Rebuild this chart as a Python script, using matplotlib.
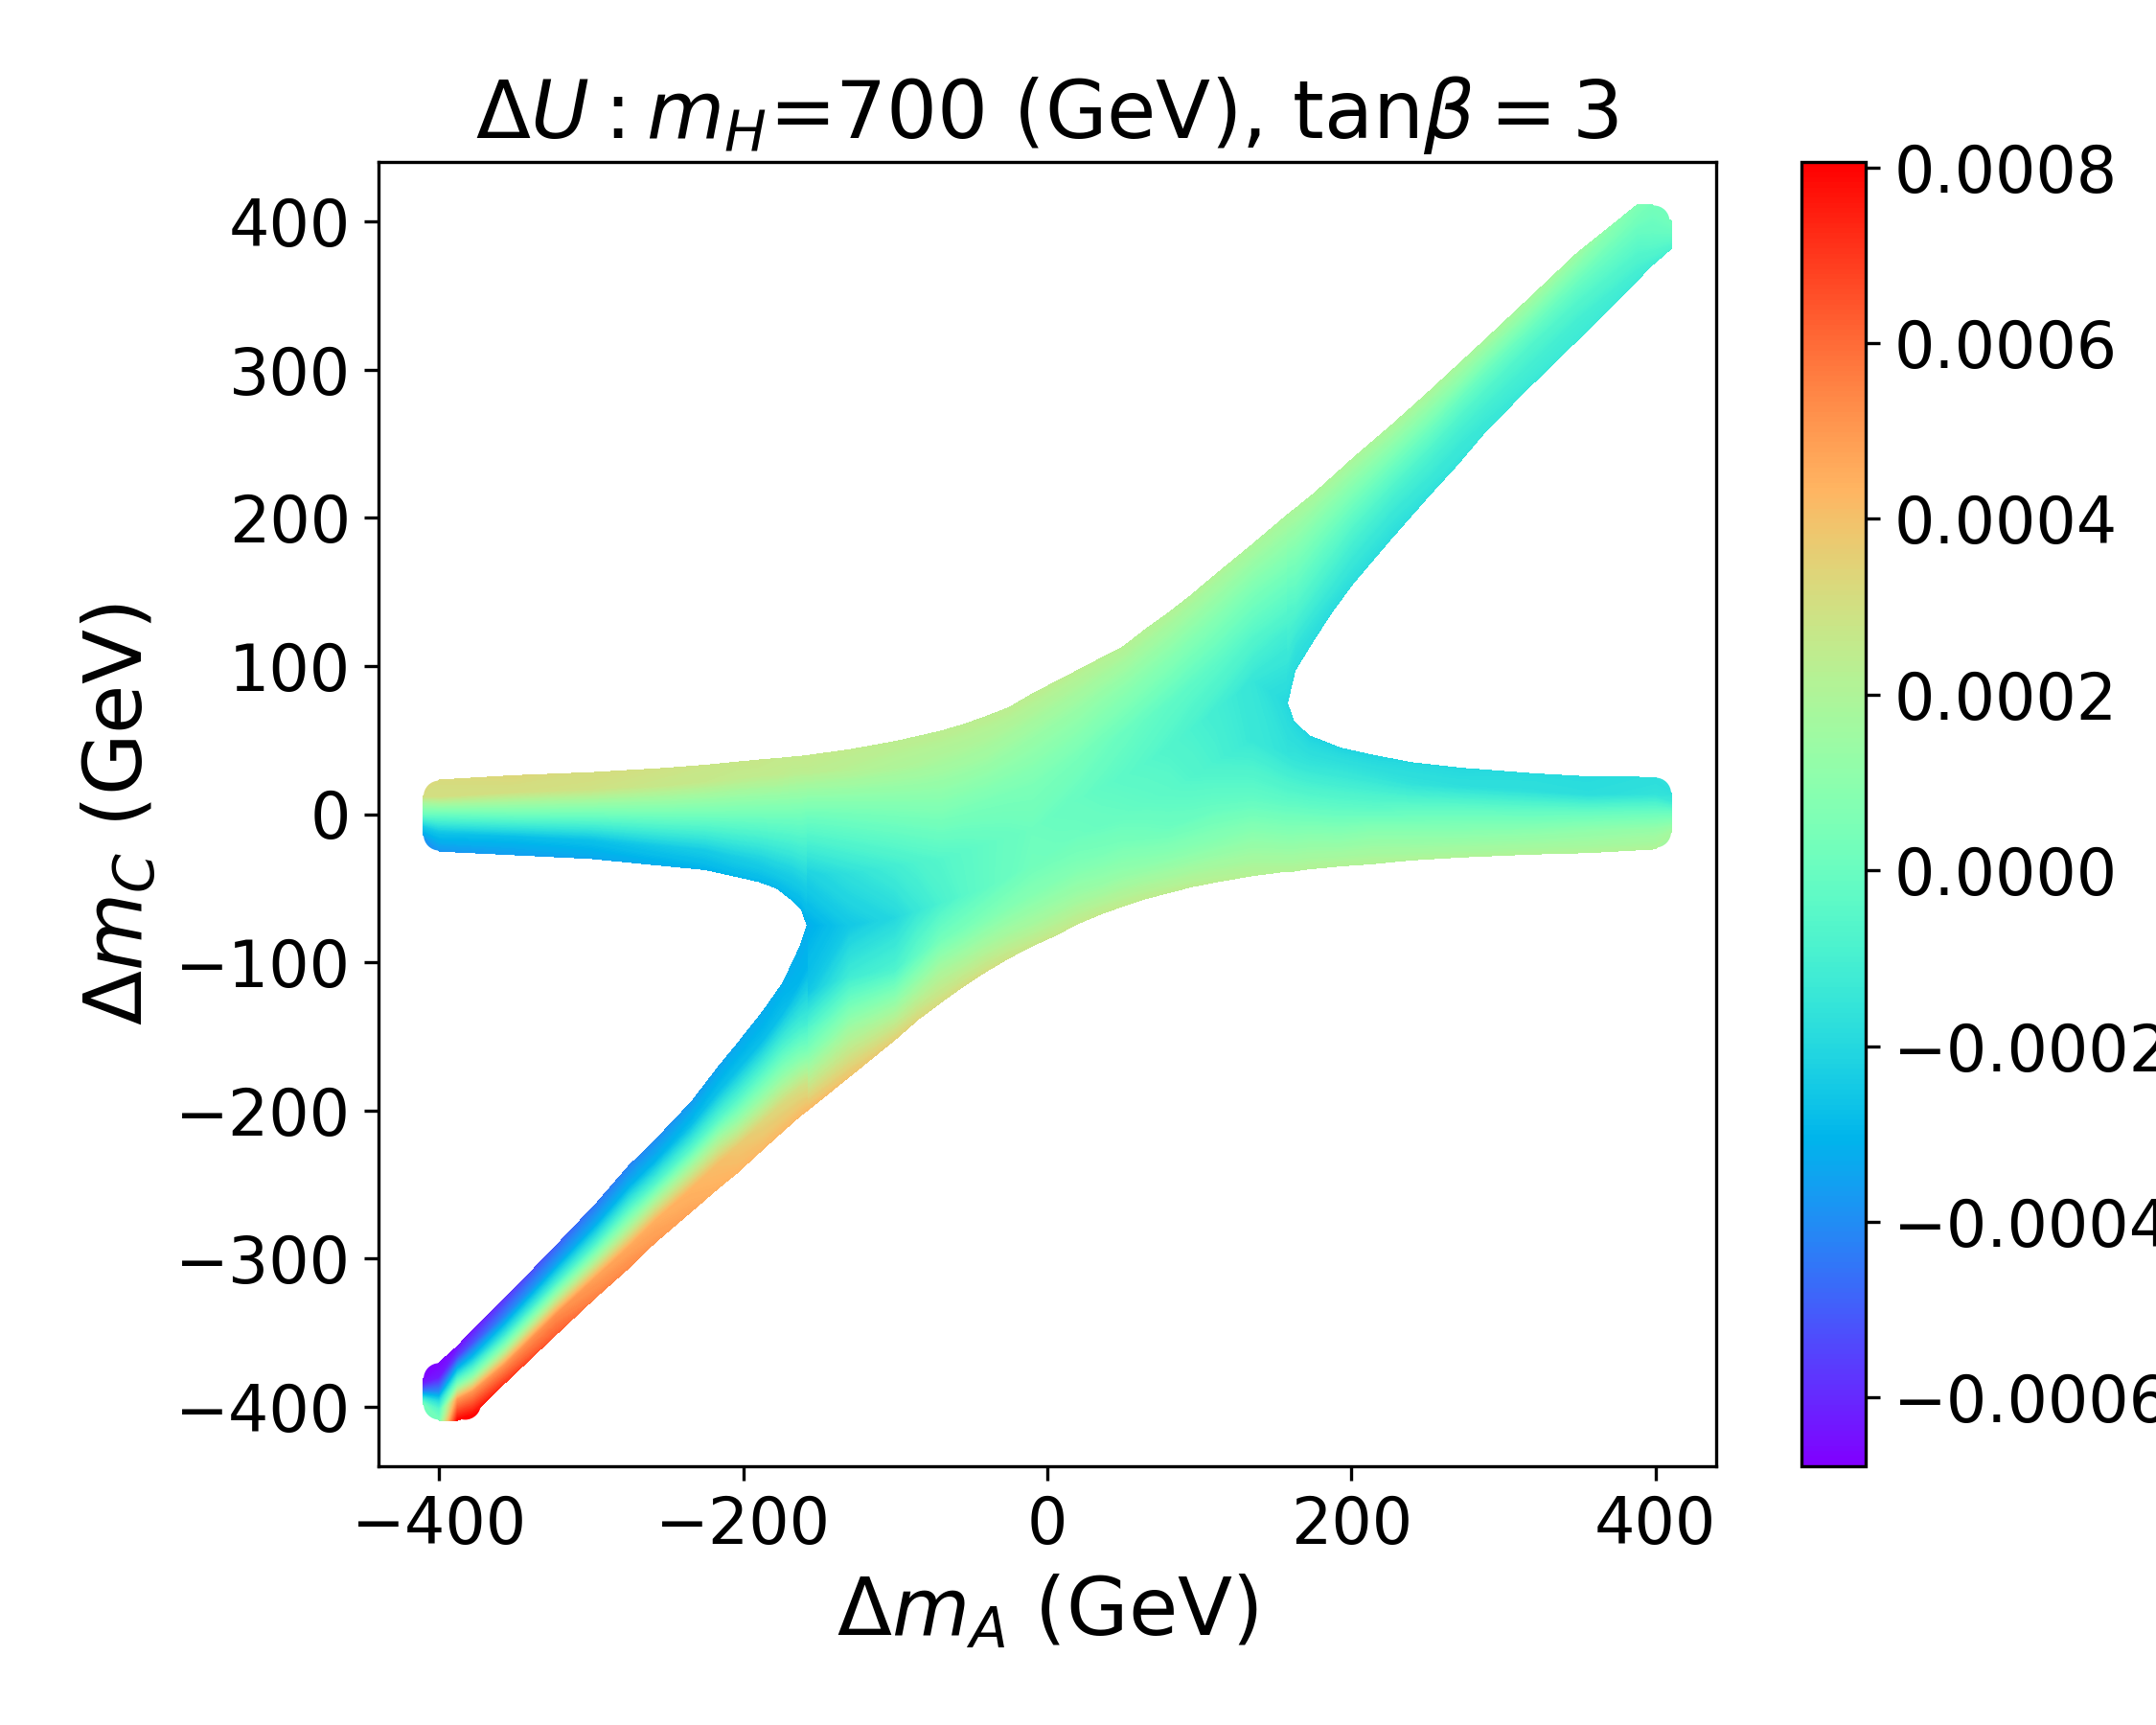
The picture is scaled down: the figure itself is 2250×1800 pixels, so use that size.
import numpy as np
import matplotlib
matplotlib.use("Agg")
import matplotlib.pyplot as plt
from matplotlib.colors import Normalize

UNIT = 1e-4
VMIN, VMAX = -6.78e-4, 8.06e-4

# left horizontal arm
LH_X = [-410.5, -400, -350, -300, -250, -225, -205, -190, -178, -168, -162, -158]
LH_Y = [[12, 7, 0, -8, -14],
        [23, 12, 0, -12, -25],
        [26, 15, 0, -15, -27.5],
        [28, 17, 0, -17, -30],
        [31, 20, 0, -22, -35],
        [33, 22, 0, -24, -37.5],
        [35, 24, 0, -28, -42],
        [36.5, 26, 0, -30, -45.5],
        [37.5, 27, 0, -33, -50],
        [38.5, 28, 0, -38, -58],
        [39, 29, 0, -42, -64],
        [39.5, 29, 0, -45, -75]]
LH_V = [[3.0, 1.6, 0.0, -2.4, -3.4],
        [3.2, 3.0, 0.0, -2.6, -3.8],
        [3.3, 3.0, 0.2, -2.8, -3.6],
        [3.1, 2.9, 0.2, -2.7, -3.4],
        [2.9, 2.7, 0.3, -2.5, -3.2],
        [2.8, 2.6, 0.3, -2.4, -3.1],
        [2.7, 2.5, 0.3, -2.3, -3.0],
        [2.7, 2.5, 0.3, -2.2, -3.0],
        [2.6, 2.5, 0.3, -2.1, -3.0],
        [2.6, 2.4, 0.3, -2.2, -3.0],
        [2.6, 2.4, 0.3, -2.2, -3.1],
        [2.6, 2.4, 0.2, -2.2, -3.2]]

# central body
CE_X = [-158, -130, -100, -85, -70, -55, -40, -25, -10, 5, 20, 35, 50, 65, 80, 95, 110, 135, 158]
CE_Y = [[39.5, 29, 0, -40, -75, -120, -160, -200],
        [43.5, 30, 0, -40, -75, -110, -145, -177],
        [49, 32, 0, -35, -70, -105, -130, -152],
        [52.5, 33, 0, -32, -65, -95, -118, -138.5],
        [56, 35, 0, -30, -60, -85, -105, -127],
        [60.5, 37, 5, -25, -55, -78, -98, -116],
        [66, 40, 10, -20, -50, -70, -90, -106],
        [72, 45, 15, -15, -42, -62, -82, -97],
        [81, 50, 20, -10, -35, -55, -75, -89],
        [89, 60, 30, 0, -25, -45, -65, -82],
        [97, 70, 40, 10, -15, -35, -55, -74],
        [105, 78, 48, 18, -8, -28, -48, -67.5],
        [113, 85, 55, 25, 0, -20, -40, -62],
        [125, 95, 65, 35, 8, -15, -35, -57],
        [136, 105, 75, 45, 15, -10, -30, -53],
        [148, 118, 88, 58, 25, -3, -25, -49],
        [161, 130, 100, 70, 35, 5, -20, -46],
        [182, 150, 120, 90, 50, 10, -15, -41.5],
        [202, 160, 120, 75, 40, 10, -15, -38.5]]
CE_V = [[2.6, 2.4, 0.2, -2.2, -3.2, -2.6, 0.5, 4.2],
        [2.5, 2.2, 0.3, -1.7, -2.5, -1.2, 1.6, 3.9],
        [2.4, 2.0, 0.4, -1.1, -2.0, -0.8, 1.5, 3.5],
        [2.4, 1.9, 0.45, -0.8, -1.4, -0.2, 1.7, 3.3],
        [2.4, 1.8, 0.5, -0.6, -0.9, 0.3, 1.8, 3.1],
        [2.4, 1.7, 0.5, -0.4, -0.5, 0.45, 1.85, 3.05],
        [2.4, 1.6, 0.5, -0.2, -0.2, 0.6, 1.9, 3.0],
        [2.4, 1.45, 0.5, -0.05, 0.0, 0.7, 1.85, 2.85],
        [2.4, 1.3, 0.5, 0.1, 0.2, 0.8, 1.8, 2.7],
        [2.35, 1.3, 0.45, 0.0, 0.15, 0.7, 1.65, 2.65],
        [2.3, 1.3, 0.4, -0.1, 0.1, 0.6, 1.5, 2.6],
        [2.25, 1.15, 0.2, -0.25, 0.0, 0.5, 1.35, 2.55],
        [2.2, 1.0, 0.0, -0.4, -0.1, 0.4, 1.2, 2.5],
        [2.15, 0.9, -0.15, -0.55, -0.25, 0.25, 1.1, 2.45],
        [2.1, 0.8, -0.3, -0.7, -0.4, 0.1, 1.0, 2.4],
        [2.05, 0.75, -0.35, -0.9, -0.65, 0.0, 0.95, 2.35],
        [2.0, 0.7, -0.4, -1.1, -0.9, -0.1, 0.9, 2.3],
        [1.9, 0.5, -0.6, -1.5, -1.4, -0.2, 1.0, 2.2],
        [1.9, 0.2, -1.2, -2.0, -1.6, -0.4, 0.9, 2.1]]

# right horizontal arm
RH_X = [158, 162, 172, 193, 214, 239, 272, 319, 356, 400, 410.5]
RH_Y = [[74.7, 40, 10, -15, -38.5],
        [62.8, 35, 10, -15, -38.5],
        [53, 32, 8, -14, -37],
        [44.5, 26, 6, -13, -35],
        [39.8, 24, 5, -12, -33.5],
        [34.8, 20, 4, -12, -31],
        [31, 18, 3, -12, -29],
        [27.3, 15, 2, -12, -27],
        [25.2, 13, 1, -11, -26],
        [24.8, 13, 1, -11, -23.5],
        [14, 8, 1, -6, -12]]
RH_V = [[-2.0, -1.6, -0.4, 0.9, 2.1],
        [-2.0, -1.5, -0.4, 0.9, 2.1],
        [-2.1, -1.5, -0.4, 0.9, 2.1],
        [-2.1, -1.4, -0.4, 0.8, 2.1],
        [-2.1, -1.5, -0.4, 0.9, 2.1],
        [-2.0, -1.6, -0.3, 0.9, 2.0],
        [-2.0, -1.7, -0.2, 0.9, 2.0],
        [-1.9, -1.7, -0.2, 1.0, 2.0],
        [-1.9, -1.8, -0.1, 1.1, 2.0],
        [-1.8, -1.6, 0.0, 1.3, 2.0],
        [-1.7, -1.3, 0.0, 0.9, 1.7]]

# lower-left diagonal arm
LD_X = [-410.5, -400, -388, -378, -357, -323, -297, -275, -258, -234, -216, -204, -187, -174, -163, -158]
LD_Y = [[-381, -385, -389, -392, -395, -398],
        [-370, -380, -390, -396, -402, -409],
        [-359, -366, -376, -385, -395, -409],
        [-348, -357, -368, -379, -390, -405],
        [-327, -339, -351, -360, -372, -384],
        [-291, -304, -316, -325, -338, -351],
        [-263, -277, -290, -300, -313, -326],
        [-237, -252, -266, -278, -292, -306],
        [-220, -235, -250, -261, -275, -289],
        [-194, -210, -226, -238, -253, -268],
        [-170, -188, -206, -219, -236, -252],
        [-155, -174, -194, -208, -225, -242],
        [-133, -153, -174, -190, -208, -226],
        [-114, -135, -158, -175, -195, -214],
        [-90, -115, -145, -165, -185, -204],
        [-75, -105, -140, -160, -180, -200]]
LD_V = [[-6.7, -6.0, -4.5, -2.8, -1.2, 0.2],
        [-6.7, -6.3, -4.0, -2.0, -0.5, 0.3],
        [-6.6, -5.6, -2.5, 0.7, 5.0, 8.0],
        [-6.4, -5.2, -2.5, 0.8, 5.1, 7.8],
        [-5.8, -4.2, -1.5, 1.1, 5.1, 7.0],
        [-5.0, -3.5, -1.0, 1.5, 5.2, 6.2],
        [-4.5, -3.2, -0.8, 1.6, 4.8, 5.5],
        [-4.2, -3.0, -0.6, 1.7, 4.6, 5.3],
        [-4.0, -3.0, -0.6, 1.8, 4.5, 5.0],
        [-3.7, -2.8, -0.5, 1.8, 4.3, 4.7],
        [-3.5, -2.7, -0.5, 1.7, 4.1, 4.4],
        [-3.4, -2.7, -0.5, 1.4, 3.8, 4.3],
        [-3.3, -2.8, -0.6, 1.2, 3.4, 4.2],
        [-3.2, -2.8, -0.7, 1.0, 3.2, 4.2],
        [-3.2, -3.0, -1.0, 0.8, 3.0, 4.2],
        [-3.2, -3.0, -1.2, 0.5, 2.8, 4.2]]

# upper-right diagonal arm
UD_X = [158, 163, 175, 187, 201, 226, 251, 270, 289, 316, 348, 388, 398, 410.5]
UD_Y = [[202, 170, 140, 115, 95, 75],
        [206, 175, 150, 130, 113, 97],
        [216, 192, 170, 150, 133, 117],
        [227, 207, 188, 170, 152, 136],
        [240, 223, 207, 190, 172, 155.5],
        [262, 248, 233, 218, 202, 185.6],
        [285, 272, 258, 244, 229, 214.7],
        [303, 291, 279, 265, 250, 236],
        [321, 311, 299, 286, 272, 259],
        [347, 337, 326, 314, 300, 287],
        [378, 369, 358, 346, 332, 319],
        [411, 402, 392, 382, 371, 360],
        [411, 402, 393, 385, 377, 370.5],
        [400, 396, 392, 389, 385, 381.5]]
UD_V = [[1.9, 0.5, -0.6, -1.2, -1.7, -2.0],
        [1.9, 0.6, -0.3, -1.0, -1.6, -1.9],
        [1.9, 0.7, -0.2, -0.9, -1.5, -1.9],
        [1.9, 0.8, -0.1, -0.8, -1.4, -1.9],
        [1.9, 0.9, 0.0, -0.8, -1.4, -1.8],
        [1.9, 1.0, 0.0, -0.8, -1.4, -1.8],
        [1.9, 1.0, 0.0, -0.8, -1.3, -1.7],
        [1.8, 1.0, 0.0, -0.8, -1.3, -1.6],
        [1.8, 1.0, 0.0, -0.7, -1.2, -1.5],
        [1.7, 0.9, 0.0, -0.7, -1.1, -1.4],
        [1.5, 0.8, 0.0, -0.6, -1.1, -1.3],
        [0.6, 0.3, -0.1, -0.5, -0.9, -1.3],
        [0.3, 0.1, -0.1, -0.4, -0.8, -1.2],
        [0.2, 0.1, -0.1, -0.3, -0.6, -0.9]]

# end points of the arms, drawn as scatter markers
END_X = [-400, -400, 400, 400, -400, -383, -400, 399, 399]
END_Y = [12, -14, 14, -12, -398, -398, -381, 400, 385]
END_V = [3.2, -3.8, -1.7, 1.7, 0.2, 8.0, -6.7, 0.2, -0.9]

X_TICKS = [-400, -200, 0, 200, 400]
Y_TICKS = [-400, -300, -200, -100, 0, 100, 200, 300, 400]

fig = plt.figure(figsize=(7.5, 6), dpi=300)
ax = fig.add_axes([395 / 2250, 1 - 1530 / 1800, (1791 - 395) / 2250, (1530 - 169) / 1800])
cax = fig.add_axes([1880 / 2250, 1 - 1530 / 1800, 67 / 2250, (1530 - 169) / 1800])

norm = Normalize(VMIN, VMAX)
levels = np.linspace(VMIN, VMAX, 300)

pts = ax.scatter(END_X, np.array(END_Y), c=np.array(END_V) * UNIT, cmap="rainbow", norm=norm,
                 s=62, linewidths=0, zorder=1)

for xs, ys, vs in [(LH_X, LH_Y, LH_V), (CE_X, CE_Y, CE_V), (RH_X, RH_Y, RH_V),
                   (LD_X, LD_Y, LD_V), (UD_X, UD_Y, UD_V)]:
    ys = np.array(ys, dtype=float)
    vs = np.array(vs, dtype=float) * UNIT
    xx = np.repeat(np.array(xs, dtype=float)[:, None], ys.shape[1], axis=1)
    ax.contourf(xx, ys, vs, levels=levels, cmap="rainbow", norm=norm, extend="both", zorder=2)

ax.set_xlim(-440, 440)
ax.set_ylim(-440, 440)
ax.set_xticks(X_TICKS)
ax.set_yticks(Y_TICKS)
ax.tick_params(labelsize=16)
ax.set_xlabel(r"$\Delta m_A$ (GeV)", fontsize=20)
ax.set_ylabel(r"$\Delta m_C$ (GeV)", fontsize=20)
ax.set_title(r"$\Delta U: m_H$=700 (GeV), tan$\beta=3$", fontsize=20)

cb = fig.colorbar(pts, cax=cax)
cb.ax.tick_params(labelsize=16)

fig.savefig("out.png", dpi=300)
